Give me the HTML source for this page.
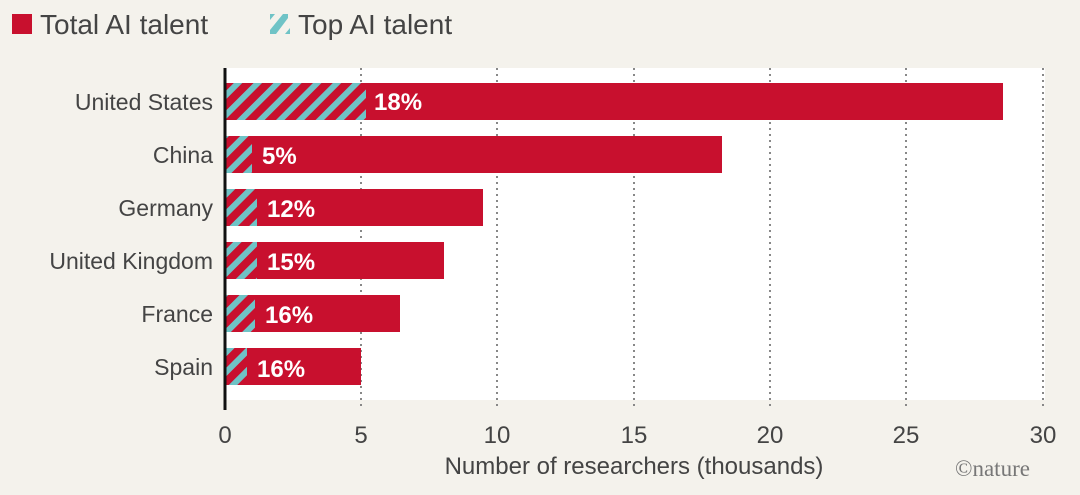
<!DOCTYPE html>
<html><head><style>body{margin:0;background:#f4f2ec}</style></head><body>
<svg width="1080" height="490" xmlns="http://www.w3.org/2000/svg" font-family="Liberation Sans, sans-serif">
<defs>
<pattern id="h" patternUnits="userSpaceOnUse" width="14" height="14" patternTransform="rotate(45)">
<rect width="14" height="14" fill="#c8102e"/><rect width="6" height="14" fill="#6fc3c6"/>
</pattern>
</defs>
<rect width="1080" height="490" fill="#f4f2ec"/>
<rect x="12" y="14" width="20" height="20" fill="#c8102e"/>
<text x="40" y="34" font-size="28" fill="#444">Total AI talent</text>
<g transform="translate(270,14)">
<polygon points="0,20 6,20 18,4 18,0 13,0 0,16" fill="#6fc3c6"/><polygon points="0,0 5,0 0,6" fill="#6fc3c6"/><polygon points="20,14 20,20 15,20" fill="#6fc3c6"/></g>
<text x="298" y="34" font-size="28" fill="#444">Top AI talent</text>
<rect x="225" y="68" width="820" height="332" fill="#fff"/>
<g stroke="#888" stroke-width="2" stroke-dasharray="2,4">
<line x1="361" y1="68" x2="361" y2="410"/><line x1="497" y1="68" x2="497" y2="410"/>
<line x1="634" y1="68" x2="634" y2="410"/><line x1="770" y1="68" x2="770" y2="410"/>
<line x1="906" y1="68" x2="906" y2="410"/><line x1="1043" y1="68" x2="1043" y2="410"/>
</g>
<g fill="#c8102e">
<rect x="225" y="83" width="778" height="37"/><rect x="225" y="136" width="497" height="37"/>
<rect x="225" y="189" width="258" height="37"/><rect x="225" y="242" width="219" height="37"/>
<rect x="225" y="295" width="175" height="37"/><rect x="225" y="348" width="136" height="37"/>
</g>
<g fill="url(#h)">
<rect x="225" y="83" width="141" height="37"/><rect x="225" y="136" width="27" height="37"/>
<rect x="225" y="189" width="32" height="37"/><rect x="225" y="242" width="32" height="37"/>
<rect x="225" y="295" width="30" height="37"/><rect x="225" y="348" width="22" height="37"/>
</g>
<g fill="#fff" font-size="24" font-weight="bold">
<text x="374" y="110">18%</text><text x="262" y="164">5%</text><text x="267" y="217">12%</text>
<text x="267" y="270">15%</text><text x="265" y="323">16%</text><text x="257" y="377">16%</text>
</g>
<line x1="225" y1="68" x2="225" y2="410" stroke="#111" stroke-width="3"/>
<g fill="#444" font-size="23" text-anchor="end">
<text x="213" y="110">United States</text><text x="213" y="163">China</text><text x="213" y="216">Germany</text>
<text x="213" y="269">United Kingdom</text><text x="213" y="322">France</text><text x="213" y="375">Spain</text>
</g>
<g fill="#444" font-size="24" text-anchor="middle">
<text x="225" y="443">0</text><text x="361" y="443">5</text><text x="497" y="443">10</text>
<text x="634" y="443">15</text><text x="770" y="443">20</text><text x="906" y="443">25</text><text x="1043" y="443">30</text>
<text x="634" y="474">Number of researchers (thousands)</text>
</g>
<text x="955" y="476" font-size="23" fill="#777" font-family="Liberation Serif, serif">©nature</text>
</svg>
</body></html>
